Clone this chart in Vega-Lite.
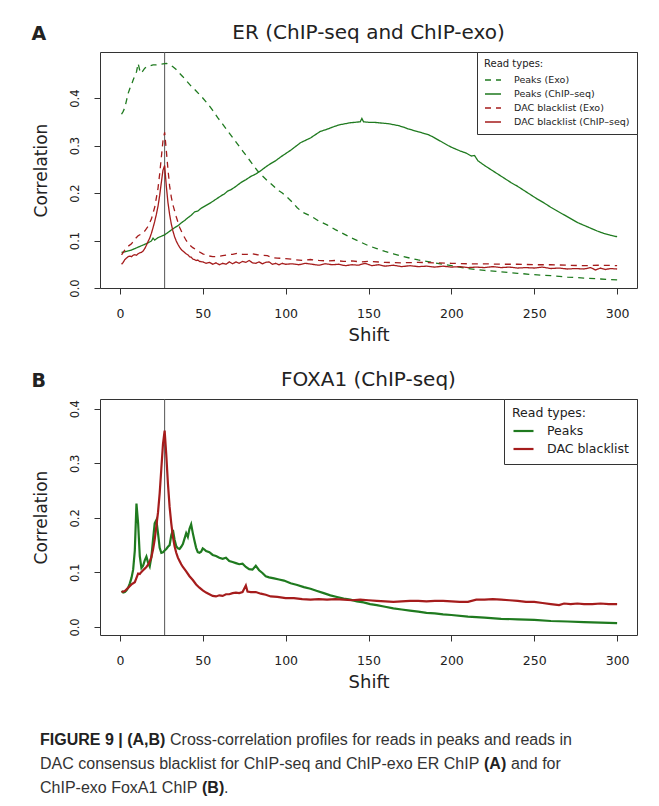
{
  "$schema": "https://vega.github.io/schema/vega-lite/v6.json",
  "background": "white",
  "padding": {"left": 31, "top": 22, "right": 0, "bottom": 0},
  "spacing": 24,
  "resolve": {"scale": {"color": "independent", "strokeDash": "independent", "x": "independent", "y": "independent"}, "legend": {"color": "independent", "strokeDash": "independent"}, "axis": {"x": "independent", "y": "independent"}},
  "config": {
    "font": "DejaVu Sans",
    "view": {"stroke": "#333", "strokeWidth": 1},
    "axis": {"grid": false, "domain": false, "ticks": true, "tickSize": 6, "tickColor": "#333", "labelColor": "#222", "titleColor": "#222", "labelFont": "DejaVu Sans", "titleFont": "DejaVu Sans", "titleFontWeight": "normal", "labelFlush": false, "labelOverlap": false},
    "axisX": {"labelFontSize": 12.5, "labelPadding": 13, "titleFontSize": 18, "titlePadding": 7},
    "axisY": {"labelAngle": 270, "labelAlign": "center", "labelBaseline": "bottom", "labelFontSize": 11.5, "labelPadding": 14, "titleFontSize": 17, "titlePadding": 19},
    "title": {"font": "DejaVu Sans", "color": "#222"}
  },
  "datasets": {
    "er": [
      {"type":"Peaks (Exo)","shift":1,"corr":0.366},{"type":"Peaks (Exo)","shift":2,"corr":0.372},{"type":"Peaks (Exo)","shift":3,"corr":0.380},{"type":"Peaks (Exo)","shift":4,"corr":0.395},{"type":"Peaks (Exo)","shift":5,"corr":0.410},{"type":"Peaks (Exo)","shift":6,"corr":0.420},{"type":"Peaks (Exo)","shift":7,"corr":0.428},{"type":"Peaks (Exo)","shift":8,"corr":0.438},{"type":"Peaks (Exo)","shift":9,"corr":0.447},{"type":"Peaks (Exo)","shift":10,"corr":0.455},{"type":"Peaks (Exo)","shift":11,"corr":0.473},{"type":"Peaks (Exo)","shift":12,"corr":0.458},{"type":"Peaks (Exo)","shift":13,"corr":0.452},{"type":"Peaks (Exo)","shift":14,"corr":0.458},{"type":"Peaks (Exo)","shift":15,"corr":0.463},{"type":"Peaks (Exo)","shift":16,"corr":0.465},{"type":"Peaks (Exo)","shift":18,"corr":0.468},{"type":"Peaks (Exo)","shift":20,"corr":0.470},{"type":"Peaks (Exo)","shift":22,"corr":0.470},{"type":"Peaks (Exo)","shift":24,"corr":0.471},{"type":"Peaks (Exo)","shift":26,"corr":0.472},{"type":"Peaks (Exo)","shift":28,"corr":0.473},{"type":"Peaks (Exo)","shift":30,"corr":0.471},{"type":"Peaks (Exo)","shift":32,"corr":0.466},{"type":"Peaks (Exo)","shift":34,"corr":0.460},{"type":"Peaks (Exo)","shift":36,"corr":0.452},{"type":"Peaks (Exo)","shift":38,"corr":0.445},{"type":"Peaks (Exo)","shift":40,"corr":0.437},{"type":"Peaks (Exo)","shift":43,"corr":0.425},{"type":"Peaks (Exo)","shift":46,"corr":0.415},{"type":"Peaks (Exo)","shift":50,"corr":0.400},{"type":"Peaks (Exo)","shift":53,"corr":0.388},{"type":"Peaks (Exo)","shift":56,"corr":0.374},{"type":"Peaks (Exo)","shift":59,"corr":0.359},{"type":"Peaks (Exo)","shift":62,"corr":0.345},{"type":"Peaks (Exo)","shift":65,"corr":0.331},{"type":"Peaks (Exo)","shift":68,"corr":0.317},{"type":"Peaks (Exo)","shift":71,"corr":0.303},{"type":"Peaks (Exo)","shift":74,"corr":0.289},{"type":"Peaks (Exo)","shift":77,"corr":0.275},{"type":"Peaks (Exo)","shift":80,"corr":0.261},{"type":"Peaks (Exo)","shift":83,"corr":0.247},{"type":"Peaks (Exo)","shift":86,"corr":0.236},{"type":"Peaks (Exo)","shift":89,"corr":0.226},{"type":"Peaks (Exo)","shift":92,"corr":0.217},{"type":"Peaks (Exo)","shift":95,"corr":0.207},{"type":"Peaks (Exo)","shift":98,"corr":0.200},{"type":"Peaks (Exo)","shift":101,"corr":0.191},{"type":"Peaks (Exo)","shift":104,"corr":0.181},{"type":"Peaks (Exo)","shift":107,"corr":0.169},{"type":"Peaks (Exo)","shift":110,"corr":0.160},{"type":"Peaks (Exo)","shift":113,"corr":0.155},{"type":"Peaks (Exo)","shift":116,"corr":0.150},{"type":"Peaks (Exo)","shift":120,"corr":0.141},{"type":"Peaks (Exo)","shift":125,"corr":0.133},{"type":"Peaks (Exo)","shift":130,"corr":0.123},{"type":"Peaks (Exo)","shift":135,"corr":0.114},{"type":"Peaks (Exo)","shift":140,"corr":0.105},{"type":"Peaks (Exo)","shift":145,"corr":0.097},{"type":"Peaks (Exo)","shift":150,"corr":0.089},{"type":"Peaks (Exo)","shift":155,"corr":0.083},{"type":"Peaks (Exo)","shift":160,"corr":0.077},{"type":"Peaks (Exo)","shift":165,"corr":0.072},{"type":"Peaks (Exo)","shift":170,"corr":0.067},{"type":"Peaks (Exo)","shift":175,"corr":0.063},{"type":"Peaks (Exo)","shift":180,"corr":0.059},{"type":"Peaks (Exo)","shift":185,"corr":0.056},{"type":"Peaks (Exo)","shift":190,"corr":0.053},{"type":"Peaks (Exo)","shift":195,"corr":0.050},{"type":"Peaks (Exo)","shift":200,"corr":0.047},{"type":"Peaks (Exo)","shift":210,"corr":0.041},{"type":"Peaks (Exo)","shift":220,"corr":0.037},{"type":"Peaks (Exo)","shift":230,"corr":0.034},{"type":"Peaks (Exo)","shift":240,"corr":0.031},{"type":"Peaks (Exo)","shift":250,"corr":0.028},{"type":"Peaks (Exo)","shift":260,"corr":0.026},{"type":"Peaks (Exo)","shift":270,"corr":0.023},{"type":"Peaks (Exo)","shift":280,"corr":0.021},{"type":"Peaks (Exo)","shift":290,"corr":0.019},{"type":"Peaks (Exo)","shift":300,"corr":0.017},

      {"type":"Peaks (ChIP–seq)","shift":1,"corr":0.075},{"type":"Peaks (ChIP–seq)","shift":3,"corr":0.076},{"type":"Peaks (ChIP–seq)","shift":5,"corr":0.078},{"type":"Peaks (ChIP–seq)","shift":7,"corr":0.080},{"type":"Peaks (ChIP–seq)","shift":9,"corr":0.083},{"type":"Peaks (ChIP–seq)","shift":11,"corr":0.086},{"type":"Peaks (ChIP–seq)","shift":13,"corr":0.089},{"type":"Peaks (ChIP–seq)","shift":15,"corr":0.092},{"type":"Peaks (ChIP–seq)","shift":17,"corr":0.095},{"type":"Peaks (ChIP–seq)","shift":19,"corr":0.099},{"type":"Peaks (ChIP–seq)","shift":20,"corr":0.105},{"type":"Peaks (ChIP–seq)","shift":21,"corr":0.101},{"type":"Peaks (ChIP–seq)","shift":23,"corr":0.106},{"type":"Peaks (ChIP–seq)","shift":25,"corr":0.109},{"type":"Peaks (ChIP–seq)","shift":27,"corr":0.112},{"type":"Peaks (ChIP–seq)","shift":29,"corr":0.117},{"type":"Peaks (ChIP–seq)","shift":31,"corr":0.122},{"type":"Peaks (ChIP–seq)","shift":33,"corr":0.127},{"type":"Peaks (ChIP–seq)","shift":35,"corr":0.131},{"type":"Peaks (ChIP–seq)","shift":37,"corr":0.137},{"type":"Peaks (ChIP–seq)","shift":39,"corr":0.142},{"type":"Peaks (ChIP–seq)","shift":41,"corr":0.148},{"type":"Peaks (ChIP–seq)","shift":43,"corr":0.153},{"type":"Peaks (ChIP–seq)","shift":45,"corr":0.160},{"type":"Peaks (ChIP–seq)","shift":47,"corr":0.162},{"type":"Peaks (ChIP–seq)","shift":49,"corr":0.168},{"type":"Peaks (ChIP–seq)","shift":52,"corr":0.174},{"type":"Peaks (ChIP–seq)","shift":55,"corr":0.180},{"type":"Peaks (ChIP–seq)","shift":58,"corr":0.187},{"type":"Peaks (ChIP–seq)","shift":61,"corr":0.194},{"type":"Peaks (ChIP–seq)","shift":63,"corr":0.198},{"type":"Peaks (ChIP–seq)","shift":65,"corr":0.204},{"type":"Peaks (ChIP–seq)","shift":67,"corr":0.207},{"type":"Peaks (ChIP–seq)","shift":70,"corr":0.214},{"type":"Peaks (ChIP–seq)","shift":73,"corr":0.222},{"type":"Peaks (ChIP–seq)","shift":76,"corr":0.228},{"type":"Peaks (ChIP–seq)","shift":79,"corr":0.235},{"type":"Peaks (ChIP–seq)","shift":82,"corr":0.240},{"type":"Peaks (ChIP–seq)","shift":85,"corr":0.247},{"type":"Peaks (ChIP–seq)","shift":88,"corr":0.255},{"type":"Peaks (ChIP–seq)","shift":91,"corr":0.262},{"type":"Peaks (ChIP–seq)","shift":94,"corr":0.268},{"type":"Peaks (ChIP–seq)","shift":97,"corr":0.276},{"type":"Peaks (ChIP–seq)","shift":100,"corr":0.283},{"type":"Peaks (ChIP–seq)","shift":103,"corr":0.290},{"type":"Peaks (ChIP–seq)","shift":106,"corr":0.298},{"type":"Peaks (ChIP–seq)","shift":109,"corr":0.306},{"type":"Peaks (ChIP–seq)","shift":112,"corr":0.311},{"type":"Peaks (ChIP–seq)","shift":115,"corr":0.316},{"type":"Peaks (ChIP–seq)","shift":118,"corr":0.323},{"type":"Peaks (ChIP–seq)","shift":121,"corr":0.330},{"type":"Peaks (ChIP–seq)","shift":124,"corr":0.333},{"type":"Peaks (ChIP–seq)","shift":127,"corr":0.337},{"type":"Peaks (ChIP–seq)","shift":130,"corr":0.341},{"type":"Peaks (ChIP–seq)","shift":133,"corr":0.344},{"type":"Peaks (ChIP–seq)","shift":136,"corr":0.346},{"type":"Peaks (ChIP–seq)","shift":139,"corr":0.348},{"type":"Peaks (ChIP–seq)","shift":142,"corr":0.349},{"type":"Peaks (ChIP–seq)","shift":145,"corr":0.350},{"type":"Peaks (ChIP–seq)","shift":146,"corr":0.357},{"type":"Peaks (ChIP–seq)","shift":147,"corr":0.350},{"type":"Peaks (ChIP–seq)","shift":150,"corr":0.349},{"type":"Peaks (ChIP–seq)","shift":153,"corr":0.349},{"type":"Peaks (ChIP–seq)","shift":156,"corr":0.348},{"type":"Peaks (ChIP–seq)","shift":159,"corr":0.347},{"type":"Peaks (ChIP–seq)","shift":162,"corr":0.346},{"type":"Peaks (ChIP–seq)","shift":165,"corr":0.344},{"type":"Peaks (ChIP–seq)","shift":168,"corr":0.342},{"type":"Peaks (ChIP–seq)","shift":171,"corr":0.339},{"type":"Peaks (ChIP–seq)","shift":174,"corr":0.335},{"type":"Peaks (ChIP–seq)","shift":177,"corr":0.332},{"type":"Peaks (ChIP–seq)","shift":180,"corr":0.329},{"type":"Peaks (ChIP–seq)","shift":183,"corr":0.326},{"type":"Peaks (ChIP–seq)","shift":186,"corr":0.323},{"type":"Peaks (ChIP–seq)","shift":189,"corr":0.318},{"type":"Peaks (ChIP–seq)","shift":192,"corr":0.312},{"type":"Peaks (ChIP–seq)","shift":195,"corr":0.306},{"type":"Peaks (ChIP–seq)","shift":198,"corr":0.300},{"type":"Peaks (ChIP–seq)","shift":201,"corr":0.295},{"type":"Peaks (ChIP–seq)","shift":205,"corr":0.289},{"type":"Peaks (ChIP–seq)","shift":209,"corr":0.284},{"type":"Peaks (ChIP–seq)","shift":212,"corr":0.278},{"type":"Peaks (ChIP–seq)","shift":214,"corr":0.279},{"type":"Peaks (ChIP–seq)","shift":216,"corr":0.268},{"type":"Peaks (ChIP–seq)","shift":220,"corr":0.258},{"type":"Peaks (ChIP–seq)","shift":224,"corr":0.249},{"type":"Peaks (ChIP–seq)","shift":228,"corr":0.240},{"type":"Peaks (ChIP–seq)","shift":232,"corr":0.231},{"type":"Peaks (ChIP–seq)","shift":236,"corr":0.222},{"type":"Peaks (ChIP–seq)","shift":240,"corr":0.214},{"type":"Peaks (ChIP–seq)","shift":244,"corr":0.205},{"type":"Peaks (ChIP–seq)","shift":248,"corr":0.196},{"type":"Peaks (ChIP–seq)","shift":252,"corr":0.187},{"type":"Peaks (ChIP–seq)","shift":256,"corr":0.179},{"type":"Peaks (ChIP–seq)","shift":260,"corr":0.170},{"type":"Peaks (ChIP–seq)","shift":264,"corr":0.162},{"type":"Peaks (ChIP–seq)","shift":268,"corr":0.154},{"type":"Peaks (ChIP–seq)","shift":272,"corr":0.146},{"type":"Peaks (ChIP–seq)","shift":276,"corr":0.138},{"type":"Peaks (ChIP–seq)","shift":280,"corr":0.132},{"type":"Peaks (ChIP–seq)","shift":284,"corr":0.126},{"type":"Peaks (ChIP–seq)","shift":288,"corr":0.120},{"type":"Peaks (ChIP–seq)","shift":292,"corr":0.115},{"type":"Peaks (ChIP–seq)","shift":296,"corr":0.111},{"type":"Peaks (ChIP–seq)","shift":300,"corr":0.108},

      {"type":"DAC blacklist (Exo)","shift":1,"corr":0.070},{"type":"DAC blacklist (Exo)","shift":3,"corr":0.080},{"type":"DAC blacklist (Exo)","shift":5,"corr":0.088},{"type":"DAC blacklist (Exo)","shift":7,"corr":0.093},{"type":"DAC blacklist (Exo)","shift":9,"corr":0.103},{"type":"DAC blacklist (Exo)","shift":11,"corr":0.110},{"type":"DAC blacklist (Exo)","shift":13,"corr":0.114},{"type":"DAC blacklist (Exo)","shift":15,"corr":0.120},{"type":"DAC blacklist (Exo)","shift":17,"corr":0.130},{"type":"DAC blacklist (Exo)","shift":19,"corr":0.145},{"type":"DAC blacklist (Exo)","shift":21,"corr":0.170},{"type":"DAC blacklist (Exo)","shift":23,"corr":0.210},{"type":"DAC blacklist (Exo)","shift":24,"corr":0.240},{"type":"DAC blacklist (Exo)","shift":25,"corr":0.275},{"type":"DAC blacklist (Exo)","shift":26,"corr":0.310},{"type":"DAC blacklist (Exo)","shift":27,"corr":0.328},{"type":"DAC blacklist (Exo)","shift":28,"corr":0.290},{"type":"DAC blacklist (Exo)","shift":29,"corr":0.250},{"type":"DAC blacklist (Exo)","shift":30,"corr":0.215},{"type":"DAC blacklist (Exo)","shift":31,"corr":0.192},{"type":"DAC blacklist (Exo)","shift":32,"corr":0.175},{"type":"DAC blacklist (Exo)","shift":34,"corr":0.150},{"type":"DAC blacklist (Exo)","shift":36,"corr":0.128},{"type":"DAC blacklist (Exo)","shift":38,"corr":0.113},{"type":"DAC blacklist (Exo)","shift":40,"corr":0.100},{"type":"DAC blacklist (Exo)","shift":42,"corr":0.091},{"type":"DAC blacklist (Exo)","shift":44,"corr":0.085},{"type":"DAC blacklist (Exo)","shift":47,"corr":0.078},{"type":"DAC blacklist (Exo)","shift":50,"corr":0.072},{"type":"DAC blacklist (Exo)","shift":53,"corr":0.068},{"type":"DAC blacklist (Exo)","shift":56,"corr":0.066},{"type":"DAC blacklist (Exo)","shift":59,"corr":0.066},{"type":"DAC blacklist (Exo)","shift":62,"corr":0.068},{"type":"DAC blacklist (Exo)","shift":65,"corr":0.070},{"type":"DAC blacklist (Exo)","shift":68,"corr":0.071},{"type":"DAC blacklist (Exo)","shift":71,"corr":0.073},{"type":"DAC blacklist (Exo)","shift":74,"corr":0.071},{"type":"DAC blacklist (Exo)","shift":77,"corr":0.071},{"type":"DAC blacklist (Exo)","shift":80,"corr":0.072},{"type":"DAC blacklist (Exo)","shift":83,"corr":0.070},{"type":"DAC blacklist (Exo)","shift":86,"corr":0.069},{"type":"DAC blacklist (Exo)","shift":89,"corr":0.068},{"type":"DAC blacklist (Exo)","shift":92,"corr":0.064},{"type":"DAC blacklist (Exo)","shift":95,"corr":0.063},{"type":"DAC blacklist (Exo)","shift":100,"corr":0.062},{"type":"DAC blacklist (Exo)","shift":105,"corr":0.060},{"type":"DAC blacklist (Exo)","shift":110,"corr":0.058},{"type":"DAC blacklist (Exo)","shift":115,"corr":0.060},{"type":"DAC blacklist (Exo)","shift":120,"corr":0.058},{"type":"DAC blacklist (Exo)","shift":125,"corr":0.057},{"type":"DAC blacklist (Exo)","shift":130,"corr":0.058},{"type":"DAC blacklist (Exo)","shift":135,"corr":0.056},{"type":"DAC blacklist (Exo)","shift":140,"corr":0.057},{"type":"DAC blacklist (Exo)","shift":145,"corr":0.055},{"type":"DAC blacklist (Exo)","shift":150,"corr":0.056},{"type":"DAC blacklist (Exo)","shift":160,"corr":0.054},{"type":"DAC blacklist (Exo)","shift":170,"corr":0.053},{"type":"DAC blacklist (Exo)","shift":180,"corr":0.054},{"type":"DAC blacklist (Exo)","shift":190,"corr":0.053},{"type":"DAC blacklist (Exo)","shift":200,"corr":0.052},{"type":"DAC blacklist (Exo)","shift":210,"corr":0.051},{"type":"DAC blacklist (Exo)","shift":220,"corr":0.051},{"type":"DAC blacklist (Exo)","shift":230,"corr":0.050},{"type":"DAC blacklist (Exo)","shift":240,"corr":0.050},{"type":"DAC blacklist (Exo)","shift":250,"corr":0.049},{"type":"DAC blacklist (Exo)","shift":260,"corr":0.049},{"type":"DAC blacklist (Exo)","shift":270,"corr":0.048},{"type":"DAC blacklist (Exo)","shift":280,"corr":0.047},{"type":"DAC blacklist (Exo)","shift":290,"corr":0.048},{"type":"DAC blacklist (Exo)","shift":300,"corr":0.047},

      {"type":"DAC blacklist (ChIP–seq)","shift":1,"corr":0.050},{"type":"DAC blacklist (ChIP–seq)","shift":2,"corr":0.054},{"type":"DAC blacklist (ChIP–seq)","shift":3,"corr":0.060},{"type":"DAC blacklist (ChIP–seq)","shift":4,"corr":0.063},{"type":"DAC blacklist (ChIP–seq)","shift":5,"corr":0.066},{"type":"DAC blacklist (ChIP–seq)","shift":6,"corr":0.067},{"type":"DAC blacklist (ChIP–seq)","shift":7,"corr":0.066},{"type":"DAC blacklist (ChIP–seq)","shift":8,"corr":0.069},{"type":"DAC blacklist (ChIP–seq)","shift":9,"corr":0.070},{"type":"DAC blacklist (ChIP–seq)","shift":10,"corr":0.069},{"type":"DAC blacklist (ChIP–seq)","shift":11,"corr":0.072},{"type":"DAC blacklist (ChIP–seq)","shift":12,"corr":0.074},{"type":"DAC blacklist (ChIP–seq)","shift":13,"corr":0.075},{"type":"DAC blacklist (ChIP–seq)","shift":14,"corr":0.078},{"type":"DAC blacklist (ChIP–seq)","shift":15,"corr":0.083},{"type":"DAC blacklist (ChIP–seq)","shift":16,"corr":0.090},{"type":"DAC blacklist (ChIP–seq)","shift":17,"corr":0.098},{"type":"DAC blacklist (ChIP–seq)","shift":18,"corr":0.105},{"type":"DAC blacklist (ChIP–seq)","shift":19,"corr":0.115},{"type":"DAC blacklist (ChIP–seq)","shift":20,"corr":0.127},{"type":"DAC blacklist (ChIP–seq)","shift":21,"corr":0.140},{"type":"DAC blacklist (ChIP–seq)","shift":22,"corr":0.155},{"type":"DAC blacklist (ChIP–seq)","shift":23,"corr":0.172},{"type":"DAC blacklist (ChIP–seq)","shift":24,"corr":0.195},{"type":"DAC blacklist (ChIP–seq)","shift":25,"corr":0.222},{"type":"DAC blacklist (ChIP–seq)","shift":26,"corr":0.248},{"type":"DAC blacklist (ChIP–seq)","shift":27,"corr":0.258},{"type":"DAC blacklist (ChIP–seq)","shift":28,"corr":0.215},{"type":"DAC blacklist (ChIP–seq)","shift":29,"corr":0.180},{"type":"DAC blacklist (ChIP–seq)","shift":30,"corr":0.155},{"type":"DAC blacklist (ChIP–seq)","shift":31,"corr":0.135},{"type":"DAC blacklist (ChIP–seq)","shift":32,"corr":0.120},{"type":"DAC blacklist (ChIP–seq)","shift":33,"corr":0.108},{"type":"DAC blacklist (ChIP–seq)","shift":34,"corr":0.099},{"type":"DAC blacklist (ChIP–seq)","shift":35,"corr":0.092},{"type":"DAC blacklist (ChIP–seq)","shift":36,"corr":0.086},{"type":"DAC blacklist (ChIP–seq)","shift":37,"corr":0.081},{"type":"DAC blacklist (ChIP–seq)","shift":38,"corr":0.078},{"type":"DAC blacklist (ChIP–seq)","shift":39,"corr":0.075},{"type":"DAC blacklist (ChIP–seq)","shift":40,"corr":0.072},{"type":"DAC blacklist (ChIP–seq)","shift":41,"corr":0.070},{"type":"DAC blacklist (ChIP–seq)","shift":42,"corr":0.066},{"type":"DAC blacklist (ChIP–seq)","shift":43,"corr":0.065},{"type":"DAC blacklist (ChIP–seq)","shift":44,"corr":0.061},{"type":"DAC blacklist (ChIP–seq)","shift":45,"corr":0.060},{"type":"DAC blacklist (ChIP–seq)","shift":46,"corr":0.058},{"type":"DAC blacklist (ChIP–seq)","shift":47,"corr":0.059},{"type":"DAC blacklist (ChIP–seq)","shift":48,"corr":0.056},{"type":"DAC blacklist (ChIP–seq)","shift":50,"corr":0.055},{"type":"DAC blacklist (ChIP–seq)","shift":52,"corr":0.052},{"type":"DAC blacklist (ChIP–seq)","shift":54,"corr":0.054},{"type":"DAC blacklist (ChIP–seq)","shift":56,"corr":0.050},{"type":"DAC blacklist (ChIP–seq)","shift":58,"corr":0.053},{"type":"DAC blacklist (ChIP–seq)","shift":60,"corr":0.049},{"type":"DAC blacklist (ChIP–seq)","shift":62,"corr":0.052},{"type":"DAC blacklist (ChIP–seq)","shift":64,"corr":0.050},{"type":"DAC blacklist (ChIP–seq)","shift":66,"corr":0.055},{"type":"DAC blacklist (ChIP–seq)","shift":68,"corr":0.051},{"type":"DAC blacklist (ChIP–seq)","shift":70,"corr":0.055},{"type":"DAC blacklist (ChIP–seq)","shift":72,"corr":0.052},{"type":"DAC blacklist (ChIP–seq)","shift":74,"corr":0.056},{"type":"DAC blacklist (ChIP–seq)","shift":76,"corr":0.054},{"type":"DAC blacklist (ChIP–seq)","shift":78,"corr":0.058},{"type":"DAC blacklist (ChIP–seq)","shift":80,"corr":0.053},{"type":"DAC blacklist (ChIP–seq)","shift":82,"corr":0.052},{"type":"DAC blacklist (ChIP–seq)","shift":84,"corr":0.055},{"type":"DAC blacklist (ChIP–seq)","shift":86,"corr":0.051},{"type":"DAC blacklist (ChIP–seq)","shift":88,"corr":0.054},{"type":"DAC blacklist (ChIP–seq)","shift":90,"corr":0.055},{"type":"DAC blacklist (ChIP–seq)","shift":92,"corr":0.050},{"type":"DAC blacklist (ChIP–seq)","shift":94,"corr":0.052},{"type":"DAC blacklist (ChIP–seq)","shift":96,"corr":0.049},{"type":"DAC blacklist (ChIP–seq)","shift":98,"corr":0.052},{"type":"DAC blacklist (ChIP–seq)","shift":100,"corr":0.050},{"type":"DAC blacklist (ChIP–seq)","shift":104,"corr":0.051},{"type":"DAC blacklist (ChIP–seq)","shift":108,"corr":0.049},{"type":"DAC blacklist (ChIP–seq)","shift":112,"corr":0.052},{"type":"DAC blacklist (ChIP–seq)","shift":116,"corr":0.050},{"type":"DAC blacklist (ChIP–seq)","shift":120,"corr":0.048},{"type":"DAC blacklist (ChIP–seq)","shift":124,"corr":0.051},{"type":"DAC blacklist (ChIP–seq)","shift":128,"corr":0.049},{"type":"DAC blacklist (ChIP–seq)","shift":132,"corr":0.050},{"type":"DAC blacklist (ChIP–seq)","shift":136,"corr":0.047},{"type":"DAC blacklist (ChIP–seq)","shift":140,"corr":0.049},{"type":"DAC blacklist (ChIP–seq)","shift":144,"corr":0.048},{"type":"DAC blacklist (ChIP–seq)","shift":148,"corr":0.052},{"type":"DAC blacklist (ChIP–seq)","shift":152,"corr":0.047},{"type":"DAC blacklist (ChIP–seq)","shift":156,"corr":0.049},{"type":"DAC blacklist (ChIP–seq)","shift":160,"corr":0.046},{"type":"DAC blacklist (ChIP–seq)","shift":165,"corr":0.048},{"type":"DAC blacklist (ChIP–seq)","shift":170,"corr":0.045},{"type":"DAC blacklist (ChIP–seq)","shift":175,"corr":0.047},{"type":"DAC blacklist (ChIP–seq)","shift":180,"corr":0.045},{"type":"DAC blacklist (ChIP–seq)","shift":185,"corr":0.046},{"type":"DAC blacklist (ChIP–seq)","shift":190,"corr":0.044},{"type":"DAC blacklist (ChIP–seq)","shift":195,"corr":0.046},{"type":"DAC blacklist (ChIP–seq)","shift":200,"corr":0.044},{"type":"DAC blacklist (ChIP–seq)","shift":205,"corr":0.045},{"type":"DAC blacklist (ChIP–seq)","shift":210,"corr":0.043},{"type":"DAC blacklist (ChIP–seq)","shift":215,"corr":0.044},{"type":"DAC blacklist (ChIP–seq)","shift":220,"corr":0.043},{"type":"DAC blacklist (ChIP–seq)","shift":225,"corr":0.045},{"type":"DAC blacklist (ChIP–seq)","shift":230,"corr":0.043},{"type":"DAC blacklist (ChIP–seq)","shift":235,"corr":0.044},{"type":"DAC blacklist (ChIP–seq)","shift":240,"corr":0.042},{"type":"DAC blacklist (ChIP–seq)","shift":245,"corr":0.043},{"type":"DAC blacklist (ChIP–seq)","shift":250,"corr":0.042},{"type":"DAC blacklist (ChIP–seq)","shift":255,"corr":0.044},{"type":"DAC blacklist (ChIP–seq)","shift":260,"corr":0.041},{"type":"DAC blacklist (ChIP–seq)","shift":265,"corr":0.042},{"type":"DAC blacklist (ChIP–seq)","shift":270,"corr":0.040},{"type":"DAC blacklist (ChIP–seq)","shift":275,"corr":0.041},{"type":"DAC blacklist (ChIP–seq)","shift":280,"corr":0.040},{"type":"DAC blacklist (ChIP–seq)","shift":284,"corr":0.043},{"type":"DAC blacklist (ChIP–seq)","shift":287,"corr":0.038},{"type":"DAC blacklist (ChIP–seq)","shift":290,"corr":0.042},{"type":"DAC blacklist (ChIP–seq)","shift":293,"corr":0.039},{"type":"DAC blacklist (ChIP–seq)","shift":296,"corr":0.041},{"type":"DAC blacklist (ChIP–seq)","shift":300,"corr":0.040}
    ],
    "foxa1": [
      {"type":"Peaks","shift":1,"corr":0.066},{"type":"Peaks","shift":2,"corr":0.063},{"type":"Peaks","shift":3,"corr":0.064},{"type":"Peaks","shift":4,"corr":0.067},{"type":"Peaks","shift":5,"corr":0.072},{"type":"Peaks","shift":6,"corr":0.080},{"type":"Peaks","shift":7,"corr":0.090},{"type":"Peaks","shift":8,"corr":0.105},{"type":"Peaks","shift":9,"corr":0.140},{"type":"Peaks","shift":10,"corr":0.226},{"type":"Peaks","shift":11,"corr":0.190},{"type":"Peaks","shift":12,"corr":0.130},{"type":"Peaks","shift":13,"corr":0.108},{"type":"Peaks","shift":14,"corr":0.112},{"type":"Peaks","shift":15,"corr":0.122},{"type":"Peaks","shift":16,"corr":0.129},{"type":"Peaks","shift":17,"corr":0.118},{"type":"Peaks","shift":18,"corr":0.111},{"type":"Peaks","shift":19,"corr":0.128},{"type":"Peaks","shift":20,"corr":0.160},{"type":"Peaks","shift":21,"corr":0.190},{"type":"Peaks","shift":22,"corr":0.196},{"type":"Peaks","shift":23,"corr":0.172},{"type":"Peaks","shift":24,"corr":0.145},{"type":"Peaks","shift":25,"corr":0.136},{"type":"Peaks","shift":26,"corr":0.137},{"type":"Peaks","shift":27,"corr":0.140},{"type":"Peaks","shift":28,"corr":0.143},{"type":"Peaks","shift":29,"corr":0.147},{"type":"Peaks","shift":30,"corr":0.150},{"type":"Peaks","shift":31,"corr":0.168},{"type":"Peaks","shift":32,"corr":0.178},{"type":"Peaks","shift":33,"corr":0.160},{"type":"Peaks","shift":34,"corr":0.148},{"type":"Peaks","shift":35,"corr":0.144},{"type":"Peaks","shift":36,"corr":0.143},{"type":"Peaks","shift":37,"corr":0.147},{"type":"Peaks","shift":38,"corr":0.152},{"type":"Peaks","shift":39,"corr":0.162},{"type":"Peaks","shift":40,"corr":0.172},{"type":"Peaks","shift":41,"corr":0.165},{"type":"Peaks","shift":42,"corr":0.180},{"type":"Peaks","shift":43,"corr":0.188},{"type":"Peaks","shift":44,"corr":0.172},{"type":"Peaks","shift":45,"corr":0.158},{"type":"Peaks","shift":46,"corr":0.145},{"type":"Peaks","shift":47,"corr":0.137},{"type":"Peaks","shift":48,"corr":0.136},{"type":"Peaks","shift":49,"corr":0.138},{"type":"Peaks","shift":50,"corr":0.144},{"type":"Peaks","shift":51,"corr":0.142},{"type":"Peaks","shift":52,"corr":0.139},{"type":"Peaks","shift":54,"corr":0.137},{"type":"Peaks","shift":56,"corr":0.132},{"type":"Peaks","shift":58,"corr":0.130},{"type":"Peaks","shift":60,"corr":0.127},{"type":"Peaks","shift":62,"corr":0.125},{"type":"Peaks","shift":64,"corr":0.127},{"type":"Peaks","shift":66,"corr":0.121},{"type":"Peaks","shift":68,"corr":0.119},{"type":"Peaks","shift":70,"corr":0.117},{"type":"Peaks","shift":72,"corr":0.115},{"type":"Peaks","shift":74,"corr":0.116},{"type":"Peaks","shift":76,"corr":0.110},{"type":"Peaks","shift":78,"corr":0.106},{"type":"Peaks","shift":80,"corr":0.105},{"type":"Peaks","shift":82,"corr":0.112},{"type":"Peaks","shift":84,"corr":0.104},{"type":"Peaks","shift":86,"corr":0.099},{"type":"Peaks","shift":88,"corr":0.093},{"type":"Peaks","shift":90,"corr":0.091},{"type":"Peaks","shift":93,"corr":0.089},{"type":"Peaks","shift":96,"corr":0.087},{"type":"Peaks","shift":99,"corr":0.085},{"type":"Peaks","shift":103,"corr":0.080},{"type":"Peaks","shift":107,"corr":0.077},{"type":"Peaks","shift":111,"corr":0.073},{"type":"Peaks","shift":115,"corr":0.070},{"type":"Peaks","shift":119,"corr":0.066},{"type":"Peaks","shift":123,"corr":0.062},{"type":"Peaks","shift":127,"corr":0.058},{"type":"Peaks","shift":131,"corr":0.055},{"type":"Peaks","shift":135,"corr":0.052},{"type":"Peaks","shift":139,"corr":0.050},{"type":"Peaks","shift":143,"corr":0.047},{"type":"Peaks","shift":147,"corr":0.045},{"type":"Peaks","shift":151,"corr":0.042},{"type":"Peaks","shift":155,"corr":0.040},{"type":"Peaks","shift":160,"corr":0.037},{"type":"Peaks","shift":165,"corr":0.034},{"type":"Peaks","shift":170,"corr":0.032},{"type":"Peaks","shift":175,"corr":0.030},{"type":"Peaks","shift":180,"corr":0.028},{"type":"Peaks","shift":185,"corr":0.026},{"type":"Peaks","shift":190,"corr":0.025},{"type":"Peaks","shift":195,"corr":0.023},{"type":"Peaks","shift":200,"corr":0.022},{"type":"Peaks","shift":210,"corr":0.019},{"type":"Peaks","shift":220,"corr":0.017},{"type":"Peaks","shift":230,"corr":0.015},{"type":"Peaks","shift":240,"corr":0.014},{"type":"Peaks","shift":250,"corr":0.013},{"type":"Peaks","shift":260,"corr":0.011},{"type":"Peaks","shift":270,"corr":0.010},{"type":"Peaks","shift":280,"corr":0.009},{"type":"Peaks","shift":290,"corr":0.008},{"type":"Peaks","shift":300,"corr":0.007},

      {"type":"DAC blacklist","shift":1,"corr":0.064},{"type":"DAC blacklist","shift":3,"corr":0.066},{"type":"DAC blacklist","shift":5,"corr":0.072},{"type":"DAC blacklist","shift":7,"corr":0.078},{"type":"DAC blacklist","shift":9,"corr":0.082},{"type":"DAC blacklist","shift":10,"corr":0.090},{"type":"DAC blacklist","shift":11,"corr":0.098},{"type":"DAC blacklist","shift":12,"corr":0.097},{"type":"DAC blacklist","shift":13,"corr":0.101},{"type":"DAC blacklist","shift":14,"corr":0.104},{"type":"DAC blacklist","shift":15,"corr":0.107},{"type":"DAC blacklist","shift":16,"corr":0.110},{"type":"DAC blacklist","shift":17,"corr":0.114},{"type":"DAC blacklist","shift":18,"corr":0.120},{"type":"DAC blacklist","shift":19,"corr":0.128},{"type":"DAC blacklist","shift":20,"corr":0.142},{"type":"DAC blacklist","shift":21,"corr":0.160},{"type":"DAC blacklist","shift":22,"corr":0.185},{"type":"DAC blacklist","shift":23,"corr":0.210},{"type":"DAC blacklist","shift":24,"corr":0.245},{"type":"DAC blacklist","shift":25,"corr":0.290},{"type":"DAC blacklist","shift":26,"corr":0.335},{"type":"DAC blacklist","shift":27,"corr":0.360},{"type":"DAC blacklist","shift":28,"corr":0.315},{"type":"DAC blacklist","shift":29,"corr":0.262},{"type":"DAC blacklist","shift":30,"corr":0.220},{"type":"DAC blacklist","shift":31,"corr":0.190},{"type":"DAC blacklist","shift":32,"corr":0.165},{"type":"DAC blacklist","shift":33,"corr":0.148},{"type":"DAC blacklist","shift":34,"corr":0.136},{"type":"DAC blacklist","shift":35,"corr":0.127},{"type":"DAC blacklist","shift":36,"corr":0.121},{"type":"DAC blacklist","shift":37,"corr":0.115},{"type":"DAC blacklist","shift":38,"corr":0.110},{"type":"DAC blacklist","shift":40,"corr":0.102},{"type":"DAC blacklist","shift":42,"corr":0.093},{"type":"DAC blacklist","shift":44,"corr":0.086},{"type":"DAC blacklist","shift":46,"corr":0.078},{"type":"DAC blacklist","shift":48,"corr":0.072},{"type":"DAC blacklist","shift":50,"corr":0.067},{"type":"DAC blacklist","shift":52,"corr":0.063},{"type":"DAC blacklist","shift":54,"corr":0.060},{"type":"DAC blacklist","shift":56,"corr":0.057},{"type":"DAC blacklist","shift":58,"corr":0.056},{"type":"DAC blacklist","shift":60,"corr":0.058},{"type":"DAC blacklist","shift":62,"corr":0.057},{"type":"DAC blacklist","shift":64,"corr":0.060},{"type":"DAC blacklist","shift":66,"corr":0.060},{"type":"DAC blacklist","shift":68,"corr":0.062},{"type":"DAC blacklist","shift":70,"corr":0.063},{"type":"DAC blacklist","shift":72,"corr":0.062},{"type":"DAC blacklist","shift":74,"corr":0.064},{"type":"DAC blacklist","shift":75,"corr":0.070},{"type":"DAC blacklist","shift":76,"corr":0.076},{"type":"DAC blacklist","shift":77,"corr":0.065},{"type":"DAC blacklist","shift":79,"corr":0.064},{"type":"DAC blacklist","shift":82,"corr":0.064},{"type":"DAC blacklist","shift":85,"corr":0.061},{"type":"DAC blacklist","shift":88,"corr":0.059},{"type":"DAC blacklist","shift":91,"corr":0.056},{"type":"DAC blacklist","shift":95,"corr":0.055},{"type":"DAC blacklist","shift":100,"corr":0.053},{"type":"DAC blacklist","shift":105,"corr":0.053},{"type":"DAC blacklist","shift":110,"corr":0.051},{"type":"DAC blacklist","shift":115,"corr":0.050},{"type":"DAC blacklist","shift":120,"corr":0.051},{"type":"DAC blacklist","shift":125,"corr":0.050},{"type":"DAC blacklist","shift":130,"corr":0.051},{"type":"DAC blacklist","shift":135,"corr":0.050},{"type":"DAC blacklist","shift":140,"corr":0.049},{"type":"DAC blacklist","shift":145,"corr":0.050},{"type":"DAC blacklist","shift":150,"corr":0.049},{"type":"DAC blacklist","shift":155,"corr":0.048},{"type":"DAC blacklist","shift":160,"corr":0.047},{"type":"DAC blacklist","shift":165,"corr":0.046},{"type":"DAC blacklist","shift":170,"corr":0.047},{"type":"DAC blacklist","shift":175,"corr":0.048},{"type":"DAC blacklist","shift":180,"corr":0.048},{"type":"DAC blacklist","shift":185,"corr":0.047},{"type":"DAC blacklist","shift":190,"corr":0.048},{"type":"DAC blacklist","shift":195,"corr":0.048},{"type":"DAC blacklist","shift":200,"corr":0.047},{"type":"DAC blacklist","shift":205,"corr":0.046},{"type":"DAC blacklist","shift":210,"corr":0.046},{"type":"DAC blacklist","shift":215,"corr":0.050},{"type":"DAC blacklist","shift":220,"corr":0.050},{"type":"DAC blacklist","shift":225,"corr":0.051},{"type":"DAC blacklist","shift":230,"corr":0.050},{"type":"DAC blacklist","shift":235,"corr":0.049},{"type":"DAC blacklist","shift":240,"corr":0.048},{"type":"DAC blacklist","shift":245,"corr":0.046},{"type":"DAC blacklist","shift":250,"corr":0.046},{"type":"DAC blacklist","shift":255,"corr":0.044},{"type":"DAC blacklist","shift":260,"corr":0.042},{"type":"DAC blacklist","shift":265,"corr":0.040},{"type":"DAC blacklist","shift":268,"corr":0.043},{"type":"DAC blacklist","shift":272,"corr":0.042},{"type":"DAC blacklist","shift":276,"corr":0.043},{"type":"DAC blacklist","shift":280,"corr":0.042},{"type":"DAC blacklist","shift":285,"corr":0.042},{"type":"DAC blacklist","shift":290,"corr":0.043},{"type":"DAC blacklist","shift":295,"corr":0.042},{"type":"DAC blacklist","shift":300,"corr":0.042}
    ],
    "captionPlain": [
      {"line": 1, "x0": 130, "text": "Cross-correlation profiles for reads in peaks and reads in"},
      {"line": 2, "x0": 0, "text": "DAC consensus blacklist for ChIP-seq and ChIP-exo ER ChIP"},
      {"line": 2, "x0": 471, "text": "and for"},
      {"line": 3, "x0": 0, "text": "ChIP-exo FoxA1 ChIP"},
      {"line": 3, "x0": 184, "text": "."}
    ],
    "captionBold": [
      {"line": 1, "x0": 0, "text": "FIGURE 9 | (A,B)"},
      {"line": 2, "x0": 444, "text": "(A)"},
      {"line": 3, "x0": 162, "text": "(B)"}
    ],
    "marker": [{"shift": 27}]
  },
  "vconcat": [
    {
      "title": {"text": "A", "anchor": "start", "frame": "bounds", "fontSize": 19, "fontWeight": "bold", "offset": -41, "baseline": "bottom"},
      "resolve": {"scale": {"color": "independent", "strokeDash": "independent"}, "legend": {"color": "independent", "strokeDash": "independent"}},
      "vconcat": [
        {
          "width": 537,
          "height": 236,
          "title": {"text": "ER (ChIP-seq and ChIP-exo)", "anchor": "middle", "frame": "group", "fontSize": 20, "fontWeight": "normal", "offset": 9},
          "layer": [
            {
              "data": {"name": "marker"},
              "mark": {"type": "rule", "color": "#555", "strokeWidth": 1},
              "encoding": {"x": {"field": "shift", "type": "quantitative"}}
            },
            {
              "data": {"name": "er"},
              "mark": {"type": "line", "strokeWidth": 1.3},
              "encoding": {
                "x": {"field": "shift", "type": "quantitative", "scale": {"domain": [-12, 312], "nice": false, "zero": false}, "axis": {"values": [0, 50, 100, 150, 200, 250, 300], "title": "Shift"}},
                "y": {"field": "corr", "type": "quantitative", "scale": {"domain": [0, 0.497], "nice": false, "zero": false}, "axis": {"values": [0, 0.1, 0.2, 0.3, 0.4], "format": ".1f", "title": "Correlation"}},
                "color": {"field": "type", "type": "nominal", "scale": {"domain": ["Peaks (Exo)", "Peaks (ChIP–seq)", "DAC blacklist (Exo)", "DAC blacklist (ChIP–seq)"], "range": ["#1f7a1f", "#1f7a1f", "#a51c1c", "#a51c1c"]},
                  "legend": {"title": "Read types:", "orient": "top-right", "offset": 0, "padding": 7, "strokeColor": "#333", "fillColor": "white", "symbolType": "stroke", "symbolSize": 256, "symbolStrokeWidth": 1.5, "labelFontSize": 9.5, "titleFontSize": 10, "titleFontWeight": "normal", "labelColor": "#222", "titleColor": "#222", "labelOffset": 12, "rowPadding": -4, "titlePadding": 2}},
                "strokeDash": {"field": "type", "type": "nominal", "scale": {"domain": ["Peaks (Exo)", "Peaks (ChIP–seq)", "DAC blacklist (Exo)", "DAC blacklist (ChIP–seq)"], "range": [[6, 5], [1, 0], [6, 5], [1, 0]]},
                  "legend": {"title": "Read types:", "orient": "top-right", "offset": 0, "padding": 7, "strokeColor": "#333", "fillColor": "white", "symbolType": "stroke", "symbolSize": 256, "symbolStrokeWidth": 1.5, "labelFontSize": 9.5, "titleFontSize": 10, "titleFontWeight": "normal", "labelColor": "#222", "titleColor": "#222", "labelOffset": 12, "rowPadding": -4, "titlePadding": 2}}
              }
            }
          ]
        }
      ]
    },
    {
      "title": {"text": "B", "anchor": "start", "frame": "bounds", "fontSize": 19, "fontWeight": "bold", "offset": -41, "baseline": "bottom"},
      "resolve": {"scale": {"color": "independent"}, "legend": {"color": "independent"}},
      "vconcat": [
        {
          "width": 537,
          "height": 236,
          "title": {"text": "FOXA1 (ChIP-seq)", "anchor": "middle", "frame": "group", "fontSize": 20, "fontWeight": "normal", "offset": 9},
          "layer": [
            {
              "data": {"name": "marker"},
              "mark": {"type": "rule", "color": "#555", "strokeWidth": 1},
              "encoding": {"x": {"field": "shift", "type": "quantitative"}}
            },
            {
              "data": {"name": "foxa1"},
              "mark": {"type": "line", "strokeWidth": 2.2},
              "encoding": {
                "x": {"field": "shift", "type": "quantitative", "scale": {"domain": [-12, 312], "nice": false, "zero": false}, "axis": {"values": [0, 50, 100, 150, 200, 250, 300], "title": "Shift"}},
                "y": {"field": "corr", "type": "quantitative", "scale": {"domain": [-0.0147, 0.4178], "nice": false, "zero": false}, "axis": {"values": [0, 0.1, 0.2, 0.3, 0.4], "format": ".1f", "title": "Correlation"}},
                "color": {"field": "type", "type": "nominal", "scale": {"domain": ["Peaks", "DAC blacklist"], "range": ["#1f7a1f", "#a51c1c"]},
                  "legend": {"title": "Read types:", "orient": "top-right", "offset": 0, "padding": 8, "strokeColor": "#333", "fillColor": "white", "symbolType": "stroke", "symbolSize": 400, "symbolStrokeWidth": 2.2, "labelFontSize": 12.5, "titleFontSize": 12.5, "titleFontWeight": "normal", "labelColor": "#222", "titleColor": "#222", "labelOffset": 12, "rowPadding": -5, "titlePadding": 0}}
              }
            }
          ]
        }
      ]
    },
    {
      "width": 600,
      "height": 80,
      "view": {"stroke": null},
      "layer": [
        {
          "data": {"name": "captionPlain"},
          "mark": {"type": "text", "align": "left", "baseline": "middle", "font": "Liberation Sans", "fontSize": 16, "color": "#333"},
          "encoding": {
            "x": {"field": "x0", "type": "quantitative", "scale": {"domain": [60, 660], "range": [0, 600], "nice": false, "zero": false}, "axis": null},
            "y": {"field": "line", "type": "quantitative", "scale": {"domain": [0, 3], "range": [0, 72], "nice": false, "zero": false}, "axis": null},
            "text": {"field": "text"}
          }
        },
        {
          "data": {"name": "captionBold"},
          "mark": {"type": "text", "align": "left", "baseline": "middle", "font": "Liberation Sans", "fontSize": 16, "fontWeight": "bold", "color": "#222"},
          "encoding": {
            "x": {"field": "x0", "type": "quantitative", "axis": null},
            "y": {"field": "line", "type": "quantitative", "axis": null},
            "text": {"field": "text"}
          }
        }
      ]
    }
  ]
}
